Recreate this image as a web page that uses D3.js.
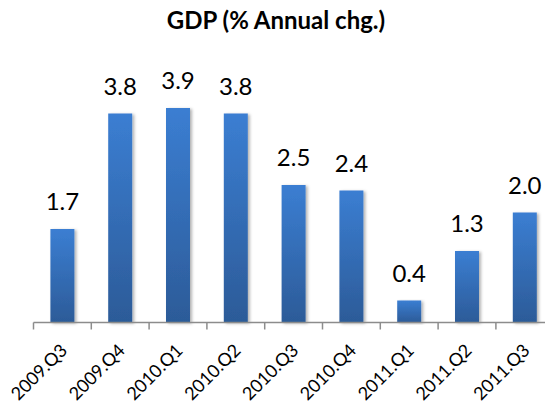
<!DOCTYPE html>
<html>
<head>
<meta charset="utf-8">
<script src="https://cdn.jsdelivr.net/npm/d3@7"></script>
<style>
  body { margin: 0; background: #fff; }
  text { font-family: Lato, "Open Sans", sans-serif; fill: #000; }
</style>
</head>
<body>
<div id="chart"></div>
<script>
// data
var quarters = ["2009.Q3", "2009.Q4", "2010.Q1", "2010.Q2", "2010.Q3", "2010.Q4", "2011.Q1", "2011.Q2", "2011.Q3"];
var gdpChange = [1.7, 3.8, 3.9, 3.8, 2.5, 2.4, 0.4, 1.3, 2.0];
var chartTitle = "GDP (% Annual chg.)";

var svgWidth = 545;
var svgHeight = 404;

var svg = d3.select("#chart").append("svg")
    .attr("width", svgWidth)
    .attr("height", svgHeight);

// gradient + soft shadow for the bars
var defs = svg.append("defs");
var grad = defs.append("linearGradient")
    .attr("id", "barGrad")
    .attr("x1", 0).attr("y1", 0).attr("x2", 0).attr("y2", 1);
grad.append("stop").attr("offset", "0%").attr("stop-color", "#3b7ed2");
grad.append("stop").attr("offset", "100%").attr("stop-color", "#2c5b98");

var shadow = defs.append("filter")
    .attr("id", "barShadow")
    .attr("x", "-20%").attr("y", "-5%").attr("width", "150%").attr("height", "115%");
shadow.append("feDropShadow")
    .attr("dx", 2).attr("dy", 1)
    .attr("stdDeviation", 1.5)
    .attr("flood-color", "#000")
    .attr("flood-opacity", 0.3);

// scales
var axisLeft = 33.5;
var step = 57.8;
var xScale = d3.scaleBand()
    .domain(quarters)
    .range([axisLeft, axisLeft + step * quarters.length])
    .paddingInner(0.585)
    .paddingOuter(0.2925);

var yScale = d3.scaleLinear()
    .domain([0, 4])
    .range([322.5, 102.5]);

// title
svg.append("text")
    .attr("x", 276)
    .attr("y", 29)
    .attr("text-anchor", "middle")
    .style("font-weight", "bold")
    .style("font-size", "24px")
    .text(chartTitle);

// bars
var data = quarters.map(function(q, i) { return { q: q, v: gdpChange[i] }; });

svg.selectAll("rect.bar")
    .data(data)
    .enter()
    .append("rect")
    .attr("class", "bar")
    .attr("x", d => xScale(d.q))
    .attr("y", d => yScale(d.v))
    .attr("width", xScale.bandwidth())
    .attr("height", d => yScale(0) - yScale(d.v))
    .attr("fill", "url(#barGrad)")
    .attr("filter", "url(#barShadow)");

// value labels
svg.selectAll("text.val")
    .data(data)
    .enter()
    .append("text")
    .attr("class", "val")
    .attr("x", d => xScale(d.q) + xScale.bandwidth() / 2)
    .attr("y", d => yScale(d.v) - 19)
    .attr("text-anchor", "middle")
    .style("font-size", "24px")
    .text(d => d3.format(".1f")(d.v));

// x axis: line + tick marks between categories
var base = yScale(0);
var axisG = svg.append("g");
axisG.append("line")
    .attr("x1", axisLeft).attr("x2", svgWidth)
    .attr("y1", base).attr("y2", base)
    .attr("stroke", "#8c8c8c")
    .attr("stroke-width", 1.5);

var tickPos = quarters.map(q => xScale(q) - xScale.step() * xScale.paddingInner() / 2);
axisG.selectAll("line.tick")
    .data(tickPos)
    .enter()
    .append("line")
    .attr("class", "tick")
    .attr("x1", d => d).attr("x2", d => d)
    .attr("y1", base).attr("y2", base + 7)
    .attr("stroke", "#8c8c8c")
    .attr("stroke-width", 1.5);

// rotated category labels
svg.selectAll("text.cat")
    .data(quarters)
    .enter()
    .append("text")
    .attr("class", "cat")
    .attr("text-anchor", "end")
    .attr("transform", d => `translate(${xScale(d) + xScale.bandwidth() / 2 + 6}, ${base + 29}) rotate(-45)`)
    .style("font-size", "18px")
    .text(d => d);
</script>
</body>
</html>
